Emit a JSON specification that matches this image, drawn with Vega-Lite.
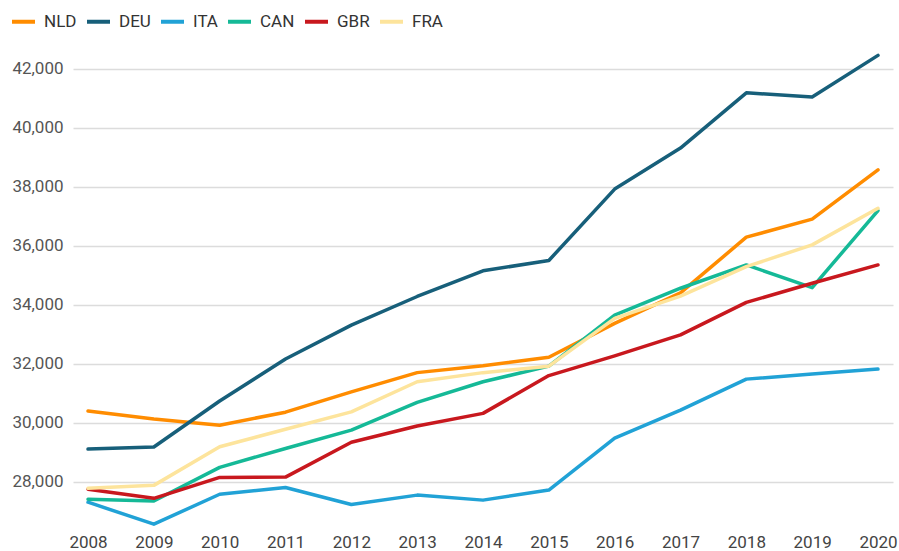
{
  "$schema": "https://vega.github.io/schema/vega-lite/v6.json",
  "autosize": "none",
  "width": 820,
  "height": 484,
  "padding": {"left": 73, "top": 48, "right": 6, "bottom": 19},
  "background": "white",
  "config": {
    "font": "Roboto",
    "view": {"stroke": null}
  },
  "data": {
    "values": [
      {"year": "2008", "country": "NLD", "value": 30400},
      {"year": "2009", "country": "NLD", "value": 30130},
      {"year": "2010", "country": "NLD", "value": 29920},
      {"year": "2011", "country": "NLD", "value": 30360},
      {"year": "2012", "country": "NLD", "value": 31050},
      {"year": "2013", "country": "NLD", "value": 31700},
      {"year": "2014", "country": "NLD", "value": 31930},
      {"year": "2015", "country": "NLD", "value": 32220},
      {"year": "2016", "country": "NLD", "value": 33370},
      {"year": "2017", "country": "NLD", "value": 34400},
      {"year": "2018", "country": "NLD", "value": 36290},
      {"year": "2019", "country": "NLD", "value": 36900},
      {"year": "2020", "country": "NLD", "value": 38570},
      {"year": "2008", "country": "DEU", "value": 29110},
      {"year": "2009", "country": "DEU", "value": 29180},
      {"year": "2010", "country": "DEU", "value": 30740},
      {"year": "2011", "country": "DEU", "value": 32160},
      {"year": "2012", "country": "DEU", "value": 33310},
      {"year": "2013", "country": "DEU", "value": 34280},
      {"year": "2014", "country": "DEU", "value": 35150},
      {"year": "2015", "country": "DEU", "value": 35500},
      {"year": "2016", "country": "DEU", "value": 37920},
      {"year": "2017", "country": "DEU", "value": 39310},
      {"year": "2018", "country": "DEU", "value": 41180},
      {"year": "2019", "country": "DEU", "value": 41040},
      {"year": "2020", "country": "DEU", "value": 42450},
      {"year": "2008", "country": "ITA", "value": 27310},
      {"year": "2009", "country": "ITA", "value": 26565},
      {"year": "2010", "country": "ITA", "value": 27580},
      {"year": "2011", "country": "ITA", "value": 27810},
      {"year": "2012", "country": "ITA", "value": 27230},
      {"year": "2013", "country": "ITA", "value": 27550},
      {"year": "2014", "country": "ITA", "value": 27380},
      {"year": "2015", "country": "ITA", "value": 27720},
      {"year": "2016", "country": "ITA", "value": 29480},
      {"year": "2017", "country": "ITA", "value": 30430},
      {"year": "2018", "country": "ITA", "value": 31480},
      {"year": "2019", "country": "ITA", "value": 31650},
      {"year": "2020", "country": "ITA", "value": 31820},
      {"year": "2008", "country": "CAN", "value": 27410},
      {"year": "2009", "country": "CAN", "value": 27350},
      {"year": "2010", "country": "CAN", "value": 28490},
      {"year": "2011", "country": "CAN", "value": 29130},
      {"year": "2012", "country": "CAN", "value": 29750},
      {"year": "2013", "country": "CAN", "value": 30690},
      {"year": "2014", "country": "CAN", "value": 31390},
      {"year": "2015", "country": "CAN", "value": 31920},
      {"year": "2016", "country": "CAN", "value": 33650},
      {"year": "2017", "country": "CAN", "value": 34560},
      {"year": "2018", "country": "CAN", "value": 35350},
      {"year": "2019", "country": "CAN", "value": 34580},
      {"year": "2020", "country": "CAN", "value": 37190},
      {"year": "2008", "country": "GBR", "value": 27750},
      {"year": "2009", "country": "GBR", "value": 27440},
      {"year": "2010", "country": "GBR", "value": 28150},
      {"year": "2011", "country": "GBR", "value": 28160},
      {"year": "2012", "country": "GBR", "value": 29340},
      {"year": "2013", "country": "GBR", "value": 29890},
      {"year": "2014", "country": "GBR", "value": 30320},
      {"year": "2015", "country": "GBR", "value": 31600},
      {"year": "2016", "country": "GBR", "value": 32270},
      {"year": "2017", "country": "GBR", "value": 32980},
      {"year": "2018", "country": "GBR", "value": 34080},
      {"year": "2019", "country": "GBR", "value": 34730},
      {"year": "2020", "country": "GBR", "value": 35350},
      {"year": "2008", "country": "FRA", "value": 27780},
      {"year": "2009", "country": "FRA", "value": 27880},
      {"year": "2010", "country": "FRA", "value": 29190},
      {"year": "2011", "country": "FRA", "value": 29780},
      {"year": "2012", "country": "FRA", "value": 30370},
      {"year": "2013", "country": "FRA", "value": 31390},
      {"year": "2014", "country": "FRA", "value": 31700},
      {"year": "2015", "country": "FRA", "value": 31920},
      {"year": "2016", "country": "FRA", "value": 33540},
      {"year": "2017", "country": "FRA", "value": 34290},
      {"year": "2018", "country": "FRA", "value": 35290},
      {"year": "2019", "country": "FRA", "value": 36030},
      {"year": "2020", "country": "FRA", "value": 37270}
    ]
  },
  "mark": {"type": "line", "strokeWidth": 3.5, "strokeCap": "round", "strokeJoin": "round"},
  "encoding": {
    "x": {
      "field": "year",
      "type": "ordinal",
      "scale": {"type": "point", "padding": 0.228},
      "axis": {
        "title": null,
        "domain": false,
        "ticks": false,
        "grid": false,
        "labelAngle": 0,
        "labelFont": "Roboto",
        "labelFontSize": 17,
        "labelColor": "#444",
        "labelPadding": 2
      }
    },
    "y": {
      "field": "value",
      "type": "quantitative",
      "scale": {"domain": [26300, 42700], "nice": false, "zero": false},
      "axis": {
        "title": null,
        "domain": false,
        "ticks": false,
        "values": [28000, 30000, 32000, 34000, 36000, 38000, 40000, 42000],
        "format": ",d",
        "labelFont": "Roboto",
        "labelFontSize": 17,
        "labelColor": "#555",
        "labelPadding": 10,
        "gridColor": "#dcdcdc",
        "gridWidth": 1.5
      }
    },
    "color": {
      "field": "country",
      "type": "nominal",
      "sort": ["NLD", "DEU", "ITA", "CAN", "GBR", "FRA"],
      "scale": {
        "domain": ["NLD", "DEU", "ITA", "CAN", "GBR", "FRA"],
        "range": ["#ff8c00", "#175f7a", "#21a2d6", "#15b997", "#c8181e", "#fde49c"]
      },
      "legend": {
        "title": null,
        "orient": "none",
        "direction": "horizontal",
        "legendX": -63,
        "legendY": -40,
        "symbolType": "stroke",
        "symbolSize": 529,
        "symbolStrokeWidth": 4,
        "labelFont": "Roboto",
        "labelFontSize": 17,
        "labelColor": "#333",
        "labelOffset": 7,
        "columnPadding": 2
      }
    }
  }
}
